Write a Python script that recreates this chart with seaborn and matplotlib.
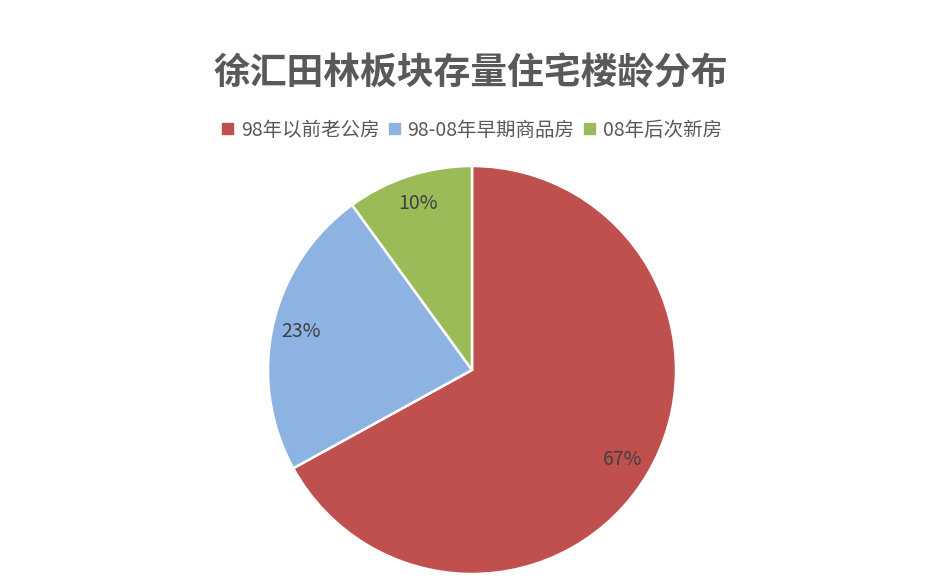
import matplotlib
matplotlib.use("Agg")
import matplotlib.pyplot as plt
import seaborn as sns

# data
categories = ["98年以前老公房", "98-08年早期商品房", "08年后次新房"]
shares = [67, 23, 10]
colors = ["#C0504D", "#8DB3E2", "#9BBB59"]
title = "徐汇田林板块存量住宅楼龄分布"

sns.set_theme(style="white")
plt.rcParams["font.family"] = ["Noto Sans CJK SC", "DejaVu Sans"]

fig = plt.figure(figsize=(9.49, 5.86), dpi=100)
# pie: center ~ (472, 370) px, radius ~ 204 px
ax = fig.add_axes([(472 - 206) / 949, 1 - (370 + 206) / 586, 412 / 949, 412 / 586])

wedges, texts, autotexts = ax.pie(
    shares,
    colors=colors,
    startangle=90,
    counterclock=False,
    autopct="%d%%",
    pctdistance=0.86,
    radius=204 / 206,
    wedgeprops=dict(edgecolor="white", linewidth=1.8),
    textprops=dict(color="#404040", fontsize=14),
)
ax.set_aspect("equal")
ax.set_xlim(-1, 1)
ax.set_ylim(-1, 1)
ax.axis("off")

fig.text(471 / 949, 1 - 74 / 586, title, ha="center", va="center",
         fontsize=26.5, fontweight="bold", color="#595959")

handles = [plt.Rectangle((0, 0), 1, 1, color=c) for c in colors]
fig.legend(handles, categories, loc="center", bbox_to_anchor=(472 / 949, 1 - 130 / 586),
           ncol=3, frameon=False, fontsize=14, handlelength=0.55, handleheight=0.55,
           handletextpad=0.4, columnspacing=0.5, labelcolor="#595959")

fig.savefig("out.png", dpi=100, facecolor="white")
